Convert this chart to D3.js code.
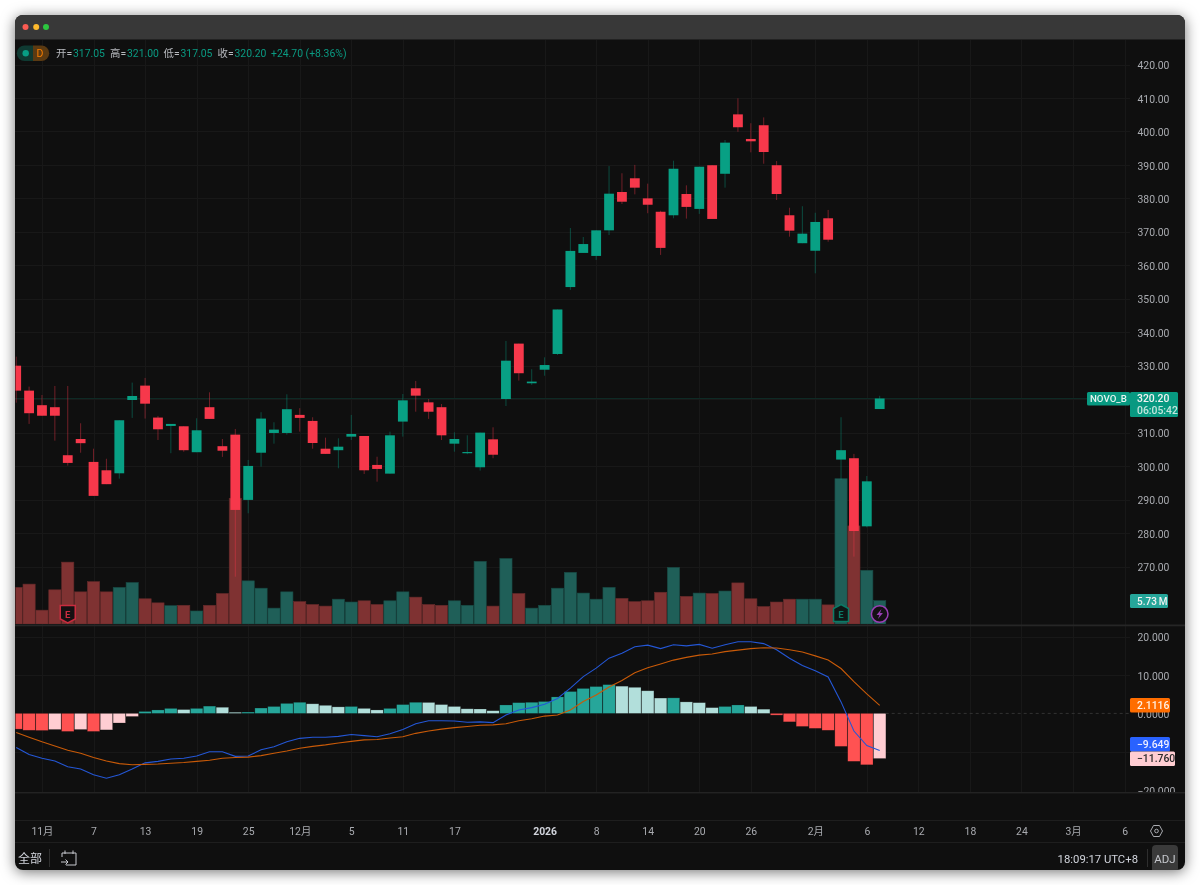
<!DOCTYPE html>
<html><head><meta charset="utf-8">
<script src="https://cdn.jsdelivr.net/npm/d3@7/dist/d3.min.js"></script>
<style>
html,body{margin:0;padding:0;background:#fff;width:1200px;height:885px;overflow:hidden}
#card{position:absolute;left:15px;top:15px;width:1170px;height:855px;border-radius:8px;background:#0f0f0f;box-shadow:0 2px 14px rgba(0,0,0,.55);overflow:hidden}
svg{position:absolute;left:-15px;top:-15px;filter:blur(.35px)}
text{font-family:Roboto,"Noto Sans CJK SC",sans-serif}
</style></head><body><div id="card"></div>
<script>
const open=[330,322.55,318.2,317.6,303.25,308.1,301.25,298.75,297.85,319.75,324.05,314.5,312,311.9,304.15,317.6,305.95,309.4,289.9,304,309.9,309.9,315.3,313.5,305.2,304.75,308.8,309,300.35,297.75,313.3,323.25,319.05,317.6,306.7,304,299.65,308,320.05,336.6,324.75,328.8,333.5,353.5,363.7,362.8,370.45,381.9,386,380,376,374.95,381.3,376.85,389.9,387.35,405.1,397.75,401.85,389.9,374.95,366.6,364.35,374.05,301.95,302.35,282,317.05];
const high=[332.7,323.75,321.25,323.95,323.95,312.8,305.2,302.2,313.7,324.95,326.35,315,312.6,311.9,314.3,322.05,308.1,311.1,301.85,316.1,313.1,321.45,317.3,314.6,308.5,308.3,315.3,309,302.8,310.3,321.55,325.45,320.05,318.55,310.1,309.2,310,311.6,337.4,336.6,328.95,332.5,346.8,371.15,368.45,370.45,389.65,387.5,390,384.4,376.3,391.25,383.9,389.45,389.9,397.45,409.9,402.45,404.2,391.15,377.2,377.65,375.7,376.55,314.6,303.65,297.05,321];
const low=[318.95,312.6,315.05,307.6,300.15,304,291.1,294.6,296.25,314.4,314.2,307.8,303.85,304.3,304.15,314.1,302.75,266.95,285.9,299.85,306.7,309.4,310.3,305.2,303.65,299.35,307.8,297.65,295.35,297.75,308.8,316.25,314.1,307.8,304.3,303.55,298.65,302.35,317.95,325.55,324.25,327,333.2,352.65,363.7,361.6,369.05,378.3,381.2,375.55,363.1,374.05,373.95,375.35,373.85,383.2,399.9,393.75,390.35,379.5,368.55,366.6,357.6,367.05,295.85,272.95,281.7,317.05];
const close=[322.55,315.8,315.05,315.05,300.95,306.85,291.1,294.6,313.7,320.95,318.65,311,312.6,304.75,310.7,314.1,304.6,286.9,300.05,314.2,310.9,317,314.4,306.9,303.65,305.8,309.6,298.75,299.15,309.2,319.65,321.05,316.25,309.2,308.1,304.2,310,303.4,331.5,327.75,325.25,330.2,346.8,364.3,366.35,370.45,381.4,379,383.2,378.1,365.2,388.85,377.45,389.45,373.85,396.65,401.25,397.05,393.85,381.3,370.35,369.45,372.95,367.65,304.75,280.6,295.45,320.2];
const volume=[9,9.8,3.4,8.4,15.2,7.9,10.4,7.9,9,10.2,6.2,5.2,4.5,4.6,3.2,4.6,7.5,30.9,10.6,8.8,3.9,7.9,5.5,4.8,4.4,6.1,5.4,5.7,4.8,5.7,7.9,6.6,4.8,4.6,5.7,4.6,15.4,4.4,16.1,7.5,3.9,4.6,8.8,12.7,7.6,6.1,9,6.3,5.5,5.7,7.8,13.9,6.8,7.6,7.5,8.1,10.1,6.2,4.3,5.4,6.1,6.1,6.1,4.7,35.7,24.1,13.2,5.73];
const hist=[-4.1,-4.4,-4.45,-4.2,-4.7,-4.2,-4.7,-4.3,-2.5,-0.8,0.5,0.9,1.3,1,1.3,1.9,1.6,0.3,0.35,1.4,1.8,2.6,2.9,2.5,2.1,1.7,1.8,1.3,0.9,1.3,2.3,2.9,2.85,2.3,1.8,1.2,1.15,0.7,2.2,2.8,2.9,3.1,4.3,5.7,6.5,7,7.5,7.1,6.8,5.9,4,4.05,3,2.8,1.5,1.8,2.2,1.8,1.1,-0.45,-2.2,-3.4,-3.9,-4.4,-8.6,-12.5,-13.4,-11.76];
const macd=[-8.9,-10.7,-11.7,-12.4,-13.9,-14.5,-16,-16.9,-16,-14.5,-12.9,-12.5,-11.9,-11.7,-11.1,-10,-10,-11.2,-11.1,-9.5,-8.7,-7.4,-6.5,-6.2,-6.2,-6,-5.5,-5.8,-6.1,-5.3,-4.2,-2.7,-1.9,-1.9,-2,-2.3,-2.2,-2.4,-0.4,0.9,1.5,2.4,3.9,6.6,9.6,11.8,14.4,15.7,17.4,17.8,16.9,17.9,17.6,18,17,17.9,18.7,18.7,18.2,16.6,14.4,12.5,11.1,9.5,3,-4.6,-8.4,-9.649];
const signal=[-5,-6.2,-7.4,-8.5,-9.6,-10.4,-11.5,-12.4,-13.1,-13.4,-13.3,-13.2,-13,-12.8,-12.5,-12.2,-11.7,-11.5,-11.4,-11,-10.4,-9.8,-9.1,-8.6,-8.2,-7.7,-7.3,-6.9,-6.8,-6.4,-6.1,-5.2,-4.6,-4.1,-3.7,-3.4,-3.1,-3,-2.7,-1.9,-1.4,-0.7,-0.4,0.9,3.1,4.8,6.9,8.6,10.6,11.9,12.9,13.9,14.6,15.2,15.5,16.1,16.5,16.9,17.1,17.05,16.6,16,15,13.9,11.7,8.3,5.1,2.1116];
const priceGrid=[420,410,400,390,380,370,360,350,340,330,320,310,300,290,280,270];
const priceTicks=[420,410,400,390,380,370,360,350,340,330,310,300,290,280,270];
const macdGrid=[20,10,-10];
const macdTicks=[20,10,0,-20];
const timeTickIndex=[2,6,10,14,18,22,26,30,34,41,45,49,53,57,62,66,70,74,78,82,86];
const timeTickLabel=["11月","7","13","19","25","12月","5","11","17","2026","8","14","20","26","2月","6","12","18","24","3月","6"];
const legendPairs=[["开=","317.05"],["高=","321.00"],["低=","317.05"],["收=","320.20"]];
const legendChange="+24.70 (+8.36%)";

const UP="#08a084",DOWN="#f7384b",AXIS="#a9abb0";
const n=close.length, idx=d3.range(n);
const x=d3.scaleLinear().domain([0,67]).range([16.2,879.7]);
const y=d3.scaleLinear().domain([420,270]).range([64.5,566.5]);
const yVol=d3.scaleLinear().domain([0,35.7]).range([624,478.7]);
const yM=d3.scaleLinear().domain([20,-20]).range([636.7,790.1]);

const svg=d3.select("#card").append("svg").attr("width",1200).attr("height",885);
const defs=svg.append("defs");
defs.append("clipPath").attr("id","cMain").append("rect").attr("x",15.5).attr("y",40).attr("width",1115).attr("height",584);
defs.append("clipPath").attr("id","cMacd").append("rect").attr("x",15.5).attr("y",626).attr("width",1115).attr("height",166);
defs.append("clipPath").attr("id","cMacdAxis").append("rect").attr("x",1130).attr("y",626).attr("width",55).attr("height",166);

// window chrome
svg.append("rect").attr("x",15).attr("y",15).attr("width",1170).attr("height",24).attr("fill","#383838");
svg.append("rect").attr("x",15).attr("y",39).attr("width",1170).attr("height",1).attr("fill","#222");
[[25.5,"#fb5b52"],[36.2,"#fdb92c"],[46,"#2cc63f"]].forEach(d=>svg.append("circle").attr("cx",d[0]).attr("cy",27).attr("r",3).attr("fill",d[1]));

// grid
const grid=svg.append("g").attr("stroke","#181818").attr("stroke-width",1);
grid.selectAll(".v").data(timeTickIndex).join("line").attr("x1",d=>Math.round(x(d))+.5).attr("x2",d=>Math.round(x(d))+.5).attr("y1",40).attr("y2",792);
grid.selectAll(".h").data(priceGrid).join("line").attr("x1",15).attr("x2",1130).attr("y1",d=>Math.round(y(d))+.5).attr("y2",d=>Math.round(y(d))+.5);
grid.selectAll(".m").data(macdGrid).join("line").attr("x1",15).attr("x2",1130).attr("y1",d=>Math.round(yM(d))+.5).attr("y2",d=>Math.round(yM(d))+.5);

// last price line
svg.append("line").attr("x1",15).attr("x2",1130).attr("y1",y(close[n-1])).attr("y2",y(close[n-1])).attr("stroke","#0f2b26");

// volume + candles
const main=svg.append("g").attr("clip-path","url(#cMain)");
main.selectAll(".vol").data(idx).join("rect")
 .attr("x",i=>x(i)-6.1).attr("width",12.2)
 .attr("y",i=>yVol(volume[i])).attr("height",i=>yVol(0)-yVol(volume[i]))
 .attr("fill",i=>close[i]>=open[i]?"rgb(31,95,88)":"rgb(127,50,50)")
 .attr("stroke",i=>close[i]>=open[i]?"rgb(24,74,68)":"rgb(100,42,42)").attr("stroke-width",.6);
main.selectAll(".wick").data(idx).join("line")
 .attr("x1",i=>x(i)).attr("x2",i=>x(i)).attr("y1",i=>y(high[i])).attr("y2",i=>y(low[i]))
 .attr("stroke",i=>close[i]>=open[i]?"rgba(8,160,132,.42)":"rgba(247,56,75,.42)").attr("stroke-width",1);
main.selectAll(".body").data(idx).join("rect")
 .attr("x",i=>x(i)-4.9).attr("width",9.8)
 .attr("y",i=>y(Math.max(open[i],close[i])))
 .attr("height",i=>Math.max(1.2,Math.abs(y(open[i])-y(close[i]))))
 .attr("fill",i=>close[i]>=open[i]?UP:DOWN);

// earnings & news markers
function shield(cx,top,col,bg,hex){
  const g=svg.append("g").attr("transform",`translate(${cx},${top})`);
  const p=hex?"M0,0 L7.5,4 V17 H-7.5 V4 Z":"M-7.5,0 H7.5 V13.5 L0,17.5 L-7.5,13.5 Z";
  g.append("path").attr("d",p).attr("fill",bg).attr("stroke",col).attr("stroke-width",1.5);
  g.append("text").attr("text-anchor","middle").attr("y",hex?13:12.5).attr("font-size",9.5).attr("font-weight",700).attr("fill",col).text("E");
}
shield(x(4),605.5,"#c82c3f","#151012",false);
shield(x(64),604.5,"#0b7a66","#0e1715",true);
const ng=svg.append("g").attr("transform",`translate(${x(67)},614)`);
ng.append("circle").attr("r",8.3).attr("fill","#141014").attr("stroke","#9a3fb5").attr("stroke-width",1.5);
ng.append("path").attr("d","M1.8,-5 L-3.2,1 H-.3 L-1.8,5 L3.2,-1 H.3 Z").attr("fill","#9a3fb5");

// pane separators
[[624.5,1.8,"#262626"],[792,1.4,"#232323"],[820,1,"#1e1e1e"],[842,1,"#1e1e1e"]].forEach(d=>
 svg.append("rect").attr("x",15).attr("y",d[0]).attr("width",1170).attr("height",d[1]).attr("fill",d[2]));

// MACD
const mp=svg.append("g").attr("clip-path","url(#cMacd)");
const histColor=i=>{const v=hist[i],p=i?hist[i-1]:v+(v<0?1:-1);return v>=0?(v>p?"#26a69a":"#b2dfdb"):(v<p?"#ff5252":"#ffcdd2");};
mp.selectAll(".h").data(idx).join("rect")
 .attr("x",i=>x(i)-6.2).attr("width",12.4)
 .attr("y",i=>Math.min(yM(0),yM(hist[i]))).attr("height",i=>Math.abs(yM(0)-yM(hist[i])))
 .attr("fill",histColor).attr("stroke","rgba(15,15,15,.35)").attr("stroke-width",.6);
svg.append("line").attr("x1",x(67)+6).attr("x2",1130).attr("y1",yM(0)).attr("y2",yM(0)).attr("stroke","#333").attr("stroke-dasharray","3 3");
const lineGen=a=>d3.line().x(i=>x(i)).y(i=>yM(a[i]))(idx);
mp.append("path").attr("d",lineGen(macd)).attr("fill","none").attr("stroke","#2457d6").attr("stroke-width",1.1);
mp.append("path").attr("d",lineGen(signal)).attr("fill","none").attr("stroke","#c85a08").attr("stroke-width",1.1);

// axes
function styleAxis(g){g.select(".domain").remove();g.selectAll(".tick line").remove();
 g.selectAll("text").attr("x",0).attr("y",.8).attr("fill",AXIS).attr("font-size",10.4).attr("font-family","Roboto,sans-serif");}
svg.append("g").attr("transform","translate(1137.5,0)")
 .call(d3.axisRight(y).tickValues(priceTicks).tickFormat(d3.format(".2f"))).call(styleAxis);
svg.append("g").attr("clip-path","url(#cMacdAxis)").append("g").attr("transform","translate(1137.5,0)")
 .call(d3.axisRight(yM).tickValues(macdTicks).tickFormat(d=>d===0?"0.0000":d3.format(".3f")(d).replace("-","−"))).call(styleAxis);
const xa=svg.append("g").attr("transform","translate(0,831)")
 .call(d3.axisBottom(x).tickValues(timeTickIndex).tickFormat((d,i)=>timeTickLabel[i]));
xa.select(".domain").remove();xa.selectAll(".tick line").remove();
xa.selectAll("text").attr("y",0).attr("dy",".35em").attr("fill",(d,i)=>timeTickLabel[i]==="2026"?"#d1d4dc":AXIS)
 .attr("font-weight",(d,i)=>timeTickLabel[i]==="2026"?700:400).attr("font-size",10.4)
 .attr("font-family",'Roboto,"Noto Sans CJK SC",sans-serif');

// legend
svg.append("path").attr("d","M33,45.5 H24.5 a7.7,7.7 0 0 0 0,15.4 H33 Z").attr("fill","#0f3a32");
svg.append("path").attr("d","M33,45.5 H41.5 a7.7,7.7 0 0 1 0,15.4 H33 Z").attr("fill","#5b3a12");
svg.append("circle").attr("cx",25.7).attr("cy",53.2).attr("r",3.2).attr("fill","#089e84");
svg.append("text").attr("x",40).attr("y",53.2).attr("dy",".36em").attr("text-anchor","middle").attr("font-size",10.5).attr("fill","#f57c00").text("D");
const lx=[56,110,163.5,217.5];
legendPairs.forEach((d,i)=>{
 svg.append("text").attr("x",lx[i]).attr("y",53.5).attr("dy",".36em").attr("font-size",10.4).attr("fill","#b9bbc0").text(d[0]);
 svg.append("text").attr("x",lx[i]+17).attr("y",53.5).attr("dy",".36em").attr("font-size",10.4).attr("fill","#0a9a82").text(d[1]);
});
svg.append("text").attr("x",271).attr("y",53.5).attr("dy",".36em").attr("font-size",10.4).attr("fill","#0a9a82").text(legendChange);

// badges
function badge(bx,by,w,h,fill,col,lines,tx,fs){
 svg.append("rect").attr("x",bx).attr("y",by).attr("width",w).attr("height",h).attr("rx",1.5).attr("fill",fill);
 lines.forEach((l,i)=>svg.append("text").attr("x",tx).attr("y",by+h/(lines.length*2)*(2*i+1)).attr("dy",".36em").attr("font-size",fs||10.4).attr("font-weight",500).attr("fill",i?"#c4e6de":col).text(l));
}
badge(1087,392,43,13.5,"#089981","#e6f5f1",["NOVO_B"],1090,9.7);
badge(1130,392,48,25,"#089981","#f2f2f2",[d3.format(".2f")(close[n-1]),"06:05:42"],1137);
badge(1130,594,38,14,"#26a69a","#f2f2f2",[d3.format(".2f")(volume[n-1])+"\u2009M"],1137,10);
badge(1130,698,40,14.5,"#ff6d00","#fff2e6",[d3.format(".4f")(signal[n-1])],1137);
badge(1130,737,40,14.5,"#2962ff","#eef",[d3.format(".3f")(macd[n-1]).replace("-","−")],1137);
badge(1130,751.5,45,14.5,"#ffcdd2","#2a2a2a",[d3.format(".3f")(hist[n-1]).replace("-","−")],1137);

// toolbar
svg.append("text").attr("x",18).attr("y",859).attr("dy",".36em").attr("font-size",12).attr("fill","#d1d4dc").text("全部");
svg.append("line").attr("x1",49.5).attr("x2",49.5).attr("y1",849).attr("y2",867).attr("stroke","#2e2e2e");
svg.append("path").attr("d","M62,857 V853 H76 V865 H66 M65,850.5 V854 M73,850.5 V854 M61,862 H68 M65.5,859.5 L68,862 L65.5,864.5").attr("fill","none").attr("stroke","#c8cad0").attr("stroke-width",1);
svg.append("text").attr("x",1138).attr("y",859).attr("dy",".36em").attr("text-anchor","end").attr("font-size",11.3).attr("fill","#d1d4dc").text("18:09:17 UTC+8");
svg.append("line").attr("x1",1147.5).attr("x2",1147.5).attr("y1",849).attr("y2",867).attr("stroke","#2e2e2e");
svg.append("rect").attr("x",1152).attr("y",845).attr("width",26).attr("height",30).attr("rx",4).attr("fill","#3a3a3a");
svg.append("text").attr("x",1165).attr("y",859).attr("dy",".36em").attr("text-anchor","middle").attr("font-size",11.5).attr("fill","#c4c6cb").text("ADJ");
svg.append("path").attr("d","M1150.5,831 L1153.5,825.5 H1159.5 L1162.5,831 L1159.5,836.5 H1153.5 Z").attr("fill","none").attr("stroke","#a9abb0");
svg.append("circle").attr("cx",1156.5).attr("cy",831).attr("r",1.8).attr("fill","none").attr("stroke","#a9abb0");
</script></body></html>
